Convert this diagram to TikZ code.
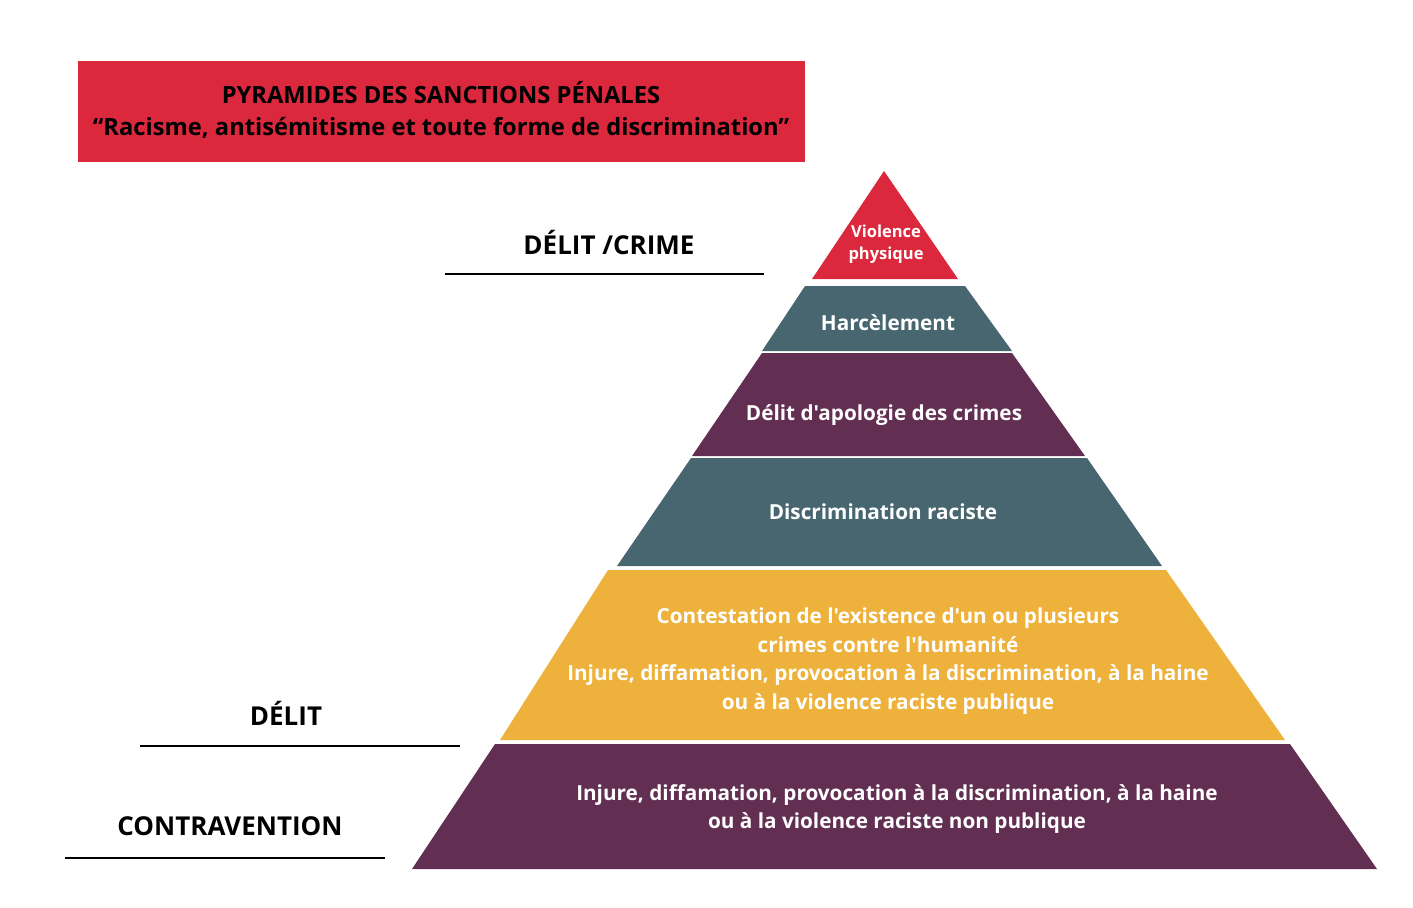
\documentclass[tikz,border=0pt]{standalone}
\usepackage{fontspec}
\newfontfamily\opensans{Open Sans}
\usepackage{xcolor}
\definecolor{sanctionred}{RGB}{220,40,61}
\definecolor{slateteal}{RGB}{71,102,112}
\definecolor{plum}{RGB}{98,47,82}
\definecolor{mustard}{RGB}{238,177,59}

\begin{document}
\begin{tikzpicture}[x=0.02cm, y=-0.02cm,
    band/.style={font=\opensans\fontsize{11.8}{16.3}\selectfont\bfseries, text=white, align=center},
    level/.style={font=\opensans\fontsize{14.8}{17}\selectfont\bfseries},
    rule/.style={line width=1.1pt}]
    \useasboundingbox (0,0) rectangle (1413,907);
    \fill[sanctionred] (78,61) rectangle (805,162);
    \node[font=\opensans\fontsize{13.5}{18.2}\selectfont\bfseries, align=center] (title) at (441,110)
        {PYRAMIDES DES SANCTIONS PÉNALES\\“Racisme, antisémitisme et toute forme de discrimination”};
    % bands of the pyramid, top to bottom
    \foreach \ya/\yb/\xa/\xb/\xc/\xd/\col in {171/279/884/884/812/958/sanctionred,
        286/351/805/965/762/1012/slateteal, 353/456/762/1012/692/1085/plum,
        458/566/691/1087/617/1162/slateteal, 570/740/608/1166/500/1285/mustard,
        744/869/495/1290/412/1377/plum}
        \fill[\col] (\xa,\ya) -- (\xb,\ya) -- (\xd,\yb) -- (\xc,\yb) -- cycle;
    \node[band, font=\opensans\fontsize{9.4}{12.5}\selectfont\bfseries] (violence) at (886,244) {Violence\\physique};
    \node[band] (harcelement) at (888,323) {Harcèlement};
    \node[band] (apologie) at (884,415) {Délit d'apologie des crimes};
    \node[band] (discrimination) at (883,512) {Discrimination raciste};
    \node[band] (publique) at (888,661) {Contestation de l'existence d'un ou plusieurs\\crimes contre l'humanité\\Injure, diffamation, provocation à la discrimination, à la haine\\ou à la violence raciste publique};
    \node[band] (nonpublique) at (897,809) {Injure, diffamation, provocation à la discrimination, à la haine\\ou à la violence raciste non publique};
    % levels on the left
    \node[level] (crime) at (609,243) {DÉLIT /CRIME};
    \draw[rule] (445,274) -- (764,274);
    \node[level] (delit) at (286,713) {DÉLIT};
    \draw[rule] (140,746) -- (460,746);
    \node[level] (contravention) at (230,826) {CONTRAVENTION};
    \draw[rule] (65,858) -- (385,858);
\end{tikzpicture}
\end{document}
